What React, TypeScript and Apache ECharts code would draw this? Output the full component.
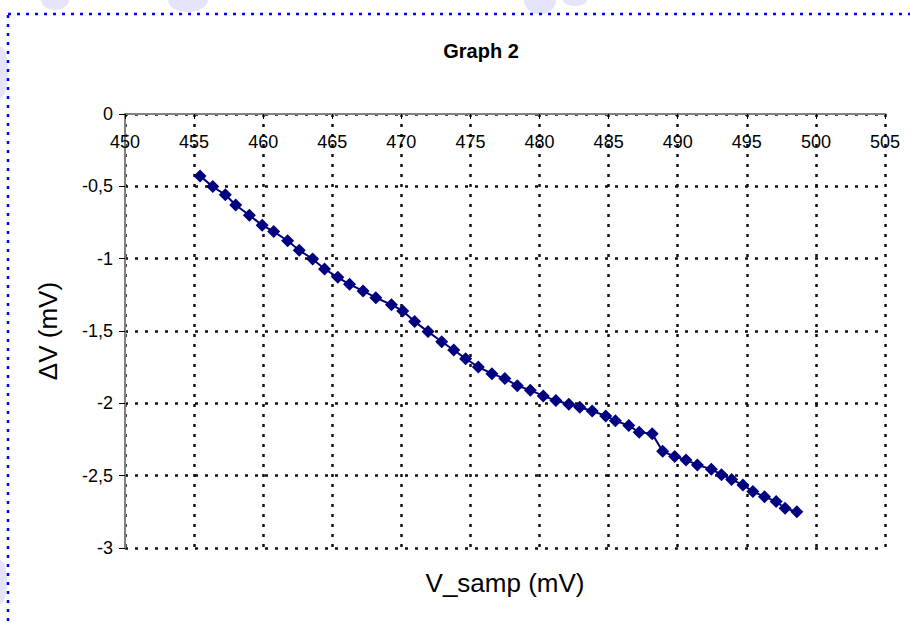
import React, { useEffect, useRef } from "react";
import * as echarts from "echarts";

const vSamp: number[] = [
  455.43, 456.35, 457.26, 458.01, 459.0, 459.93, 460.76, 461.77, 462.61, 463.58,
  464.44, 465.4, 466.25, 467.23, 468.15, 469.28, 470.1, 470.96, 471.93, 472.92,
  473.79, 474.65, 475.57, 476.55, 477.49, 478.39, 479.33, 480.27, 481.18, 482.12,
  482.91, 483.81, 484.79, 485.49, 486.46, 487.21, 488.15, 488.91, 489.78, 490.6,
  491.42, 492.43, 493.17, 493.9, 494.72, 495.44, 496.28, 497.12, 497.77, 498.62,
];
const deltaV: number[] = [
  -0.428, -0.502, -0.558, -0.629, -0.7, -0.769, -0.813, -0.876, -0.942, -1.002,
  -1.071, -1.129, -1.177, -1.223, -1.27, -1.318, -1.361, -1.435, -1.504, -1.574,
  -1.631, -1.691, -1.749, -1.795, -1.829, -1.878, -1.909, -1.949, -1.981, -2.006,
  -2.027, -2.053, -2.087, -2.12, -2.154, -2.2, -2.211, -2.331, -2.368, -2.391,
  -2.426, -2.455, -2.493, -2.527, -2.564, -2.61, -2.645, -2.679, -2.725, -2.75,
];
const title = "Graph 2";
const xName = "V_samp (mV)";
const yName = "ΔV (mV)";

export default function App() {
  const ref = useRef<HTMLDivElement>(null);
  useEffect(() => {
    if (!ref.current) return;
    const chart = echarts.init(ref.current, undefined, { renderer: "svg" });
    const font = "Arial, 'Liberation Sans', sans-serif";
    const grid = { left: 125, right: 25, top: 114, bottom: 75 };
    const split = { show: true, lineStyle: { color: "#111", width: 2.5, type: [3, 7] as any } };
    chart.setOption({
      animation: false,
      backgroundColor: "#fff",
      title: {
        text: title,
        left: 476,
        textAlign: "center",
        top: 36,
        textStyle: { fontFamily: font, fontSize: 20, fontWeight: "bold", color: "#000" },
      },
      grid,
      graphic: [
        { type: "ellipse", shape: { cx: 55, cy: 0, rx: 14, ry: 10 }, style: { fill: "#e4e4fb" }, z: -10 },
        { type: "ellipse", shape: { cx: 188, cy: 0, rx: 20, ry: 12 }, style: { fill: "#e4e4fb" }, z: -10 },
        { type: "ellipse", shape: { cx: 540, cy: 0, rx: 16, ry: 14 }, style: { fill: "#e4e4fb" }, z: -10 },
        { type: "ellipse", shape: { cx: 575, cy: 0, rx: 12, ry: 6 }, style: { fill: "#e4e4fb" }, z: -10 },
        { type: "ellipse", shape: { cx: 0, cy: 72, rx: 8, ry: 26 }, style: { fill: "#e4e4fb" }, z: -10 },
        { type: "ellipse", shape: { cx: 0, cy: 582, rx: 7, ry: 22 }, style: { fill: "#e4e4fb" }, z: -10 },
        {
          type: "rect",
          shape: { x: 8, y: 14, width: 1000, height: 1000 },
          style: { fill: "none", stroke: "#0000ff", lineWidth: 2.5, lineDash: [3, 6] },
          z: -5,
        },
      ],
      xAxis: {
        type: "value",
        position: "top",
        min: 450,
        max: 505,
        interval: 5,
        name: xName,
        nameLocation: "middle",
        nameGap: -482,
        nameTextStyle: { fontFamily: font, fontSize: 26, color: "#000" },
        axisLine: { show: true, onZero: false, lineStyle: { color: "#808080", width: 2 } },
        axisTick: { show: true, inside: true, length: 5, lineStyle: { color: "#000" } },
        axisLabel: {
          inside: true,
          margin: 19,
          fontFamily: font,
          fontSize: 18,
          color: "#000",
        },
        splitLine: split,
      },
      yAxis: {
        type: "value",
        min: -3,
        max: 0,
        interval: 0.5,
        name: yName,
        nameLocation: "middle",
        nameGap: 64,
        nameRotate: 90,
        nameTextStyle: { fontFamily: font, fontSize: 26, color: "#000" },
        axisLine: { show: true, onZero: false, lineStyle: { color: "#808080", width: 2 } },
        axisTick: { show: true, inside: false, length: 6, lineStyle: { color: "#000" } },
        axisLabel: {
          margin: 12,
          fontFamily: font,
          fontSize: 18,
          color: "#000",
          formatter: (v: number) => String(v).replace(".", ","),
        },
        splitLine: split,
      },
      series: [
        {
          type: "line",
          data: vSamp.map((x, i) => [x, deltaV[i]]),
          symbol: "diamond",
          symbolSize: 13,
          itemStyle: { color: "#000080" },
          lineStyle: { color: "#000080", width: 2 },
        },
      ],
    });
    return () => chart.dispose();
  }, []);
  return (
    <div
      ref={ref}
      style={{ position: "fixed", left: 0, top: 0, width: 910, height: 623 }}
    />
  );
}
